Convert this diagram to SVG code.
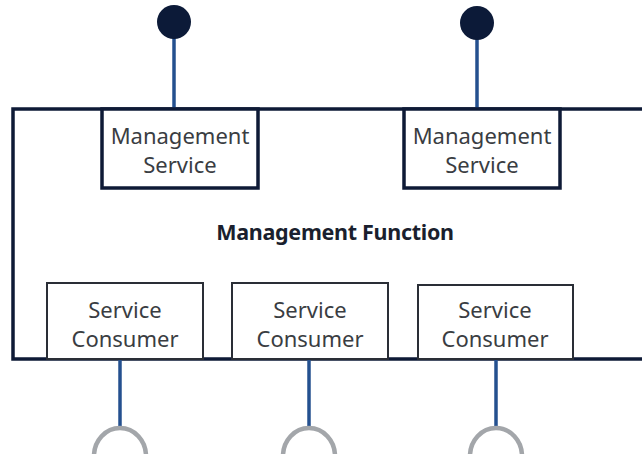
<svg xmlns="http://www.w3.org/2000/svg" width="642" height="454" viewBox="0 0 642 454">
<style>
.frame{fill:none;stroke:#0e1a36;stroke-width:3.5}
.ms{fill:#fff;stroke:#0e1a36;stroke-width:3.5}
.sc{fill:#fff;stroke:#2a2e36;stroke-width:2}
.t{font-family:"Noto Sans","Open Sans",sans-serif;font-size:22px;fill:#3a3d42;text-anchor:middle}
.b{font-family:"Noto Sans","Open Sans",sans-serif;font-size:21.5px;font-weight:bold;fill:#1a1f2e;text-anchor:middle;letter-spacing:-0.3px}
.stem{stroke:#24508f;stroke-width:3.5;fill:none}
.ball{fill:#0c1a38}
.sock{fill:none;stroke:#a3a6aa;stroke-width:4.5}
</style>
<rect width="642" height="454" fill="#fff"/>
<g id="management-function">
<path class="frame" d="M650,109 H13 V359 H650"/>
<text class="b" x="335" y="240">Management Function</text>
</g>
<g id="connectors">
<line class="stem" x1="174" y1="30" x2="174" y2="109"/>
<line class="stem" x1="477" y1="30" x2="477" y2="109"/>
<line class="stem" x1="120" y1="360" x2="120" y2="428"/>
<line class="stem" x1="309" y1="360" x2="309" y2="428"/>
<line class="stem" x1="496" y1="360" x2="496" y2="428"/>
</g>
<g id="provided-interface-1"><circle class="ball" cx="174" cy="22" r="17"/></g>
<g id="provided-interface-2"><circle class="ball" cx="477" cy="23" r="17"/></g>
<g id="management-service-1">
<rect class="ms" x="102" y="109" width="156" height="79"/>
<text class="t" x="180" y="144">Management</text>
<text class="t" x="180" y="173">Service</text>
</g>
<g id="management-service-2">
<rect class="ms" x="404" y="109" width="156" height="79"/>
<text class="t" x="482" y="144">Management</text>
<text class="t" x="482" y="173">Service</text>
</g>
<g id="service-consumer-1">
<rect class="sc" x="47" y="283" width="156" height="76"/>
<text class="t" x="125" y="318">Service</text>
<text class="t" x="125" y="347">Consumer</text>
</g>
<g id="service-consumer-2">
<rect class="sc" x="232" y="283" width="156" height="76"/>
<text class="t" x="310" y="318">Service</text>
<text class="t" x="310" y="347">Consumer</text>
</g>
<g id="service-consumer-3">
<rect class="sc" x="418" y="285" width="155" height="74"/>
<text class="t" x="495" y="318">Service</text>
<text class="t" x="495" y="347">Consumer</text>
</g>
<g id="required-interface-1"><path class="sock" d="M94,456 A26,28 0 0 1 146,456"/></g>
<g id="required-interface-2"><path class="sock" d="M283,456 A26,28 0 0 1 335,456"/></g>
<g id="required-interface-3"><path class="sock" d="M470,456 A26,28 0 0 1 522,456"/></g>
</svg>
